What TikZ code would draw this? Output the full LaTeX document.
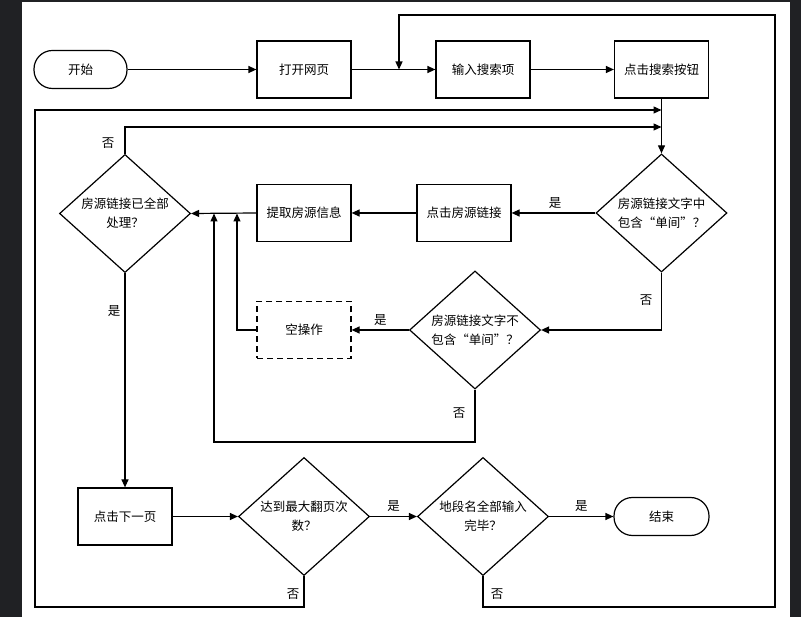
\documentclass[tikz,border=0pt]{standalone}
\usepackage{fontspec}
\setmainfont{Noto Sans CJK SC}
\usetikzlibrary{shapes.geometric,arrows.meta}
\begin{document}
\begin{tikzpicture}[x=1pt,y=-1pt,
  every node/.style={font=\fontsize{12.5}{19}\selectfont, inner sep=1pt},
  procbox/.style={draw, line width=1.2pt, minimum width=94pt, minimum height=57pt, align=center},
  dashbox/.style={procbox, dashed, dash pattern=on 6pt off 4pt},
  termbox/.style={draw, line width=1.2pt, rounded corners=18.5pt, minimum height=38pt, align=center},
  decbox/.style={draw, diamond, line width=1.2pt, inner sep=0pt, minimum width=131pt, minimum height=117pt, align=center},
  conn/.style={line width=1.2pt, -{Triangle[length=8pt,width=7pt]}},
  plain/.style={line width=1.2pt},
  lbl/.style={font=\fontsize{12.5}{15}\selectfont}
]
\useasboundingbox (0,0) rectangle (801,617);
\fill[black!88!blue!70!white, fill={rgb,255:red,32;green,33;blue,36}] (0,0) rectangle (801,617);
\fill[white] (22,2) rectangle (790,617);

% nodes
\node[termbox, minimum width=93pt] (start) at (80.5,69.5) {开始};
\node[procbox] (open) at (304,69.5) {打开网页};
\node[procbox] (input) at (483,69.5) {输入搜索项};
\node[procbox] (clicksearch) at (661.5,69.5) {点击搜索按钮};
\node[decbox] (d1) at (661.5,213) {房源链接文字中\\包含“单间”？};
\node[procbox] (link) at (464,213) {点击房源链接};
\node[procbox] (info) at (304,213) {提取房源信息};
\node[decbox] (d3) at (125,213.5) {房源链接已全部\\处理？};
\node[dashbox] (noop) at (304,330) {空操作};
\node[decbox] (d2) at (475,330) {房源链接文字不\\包含“单间”？};
\node[procbox] (next) at (125,516.5) {点击下一页};
\node[decbox] (d4) at (304,516.5) {达到最大翻页次\\数？};
\node[decbox] (d5) at (483,516.5) {地段名全部输入\\完毕？};
\node[termbox, minimum width=95pt] (finish) at (661.5,516.5) {结束};

% helper coordinates
\coordinate (j1) at (399,69.5);
\coordinate (topL) at (399,15);
\coordinate (topR) at (775,15);
\coordinate (botR) at (775,607);
\coordinate (j5) at (483,607);
\coordinate (j4) at (304,607);
\coordinate (botL) at (35,607);
\coordinate (outTL) at (35,110);
\coordinate (in1) at (661.5,110);
\coordinate (in2) at (661.5,127);
\coordinate (d3top) at (125,127);
\coordinate (m1) at (661.5,330);
\coordinate (c237) at (237,330);
\coordinate (a237) at (237,213.5);
\coordinate (b475) at (475,442);
\coordinate (b214) at (214,442);
\coordinate (a214) at (214,213.5);

% connectors
\draw[conn] (start.east) -- (open.west);
\draw[conn] (open.east) -- (input.west);
\draw[conn] (input.east) -- (clicksearch.west);
\draw[conn] (d5.south) -- (j5) -- (botR) -- (topR) -- (topL) -- (j1);
\draw[conn] (clicksearch.south) -- (d1.north);
\draw[conn] (d4.south) -- (j4) -- (botL) -- (outTL) -- (in1);
\draw[conn] (d3.north) -- (d3top) -- (in2);
\draw[conn] (d1.west) -- node[lbl, above=3pt, pos=0.48] {是} (link.east);
\draw[conn] (link.west) -- (info.east);
\draw[conn] (info.west) -- (d3.east);
\draw[conn] (d1.south) -- (m1) -- (d2.east);
\draw[conn] (d2.west) -- node[lbl, above=3pt, pos=0.5] {是} (noop.east);
\draw[conn] (noop.west) -- (c237) -- (a237);
\draw[conn] (d2.south) -- (b475) -- (b214) -- (a214);
\draw[conn] (d3.south) -- (next.north);
\draw[conn] (next.east) -- (d4.west);
\draw[conn] (d4.east) -- node[lbl, above=3pt, pos=0.5] {是} (d5.west);
\draw[conn] (d5.east) -- node[lbl, above=3pt, pos=0.5] {是} (finish.west);

% free labels
\node[lbl] (l1) at (108,143) {否};
\node[lbl] (l2) at (114,311) {是};
\node[lbl] (l3) at (646,300) {否};
\node[lbl] (l4) at (459,413) {否};
\node[lbl] (l5) at (293,594) {否};
\node[lbl] (l6) at (497,594) {否};
\end{tikzpicture}
\end{document}
